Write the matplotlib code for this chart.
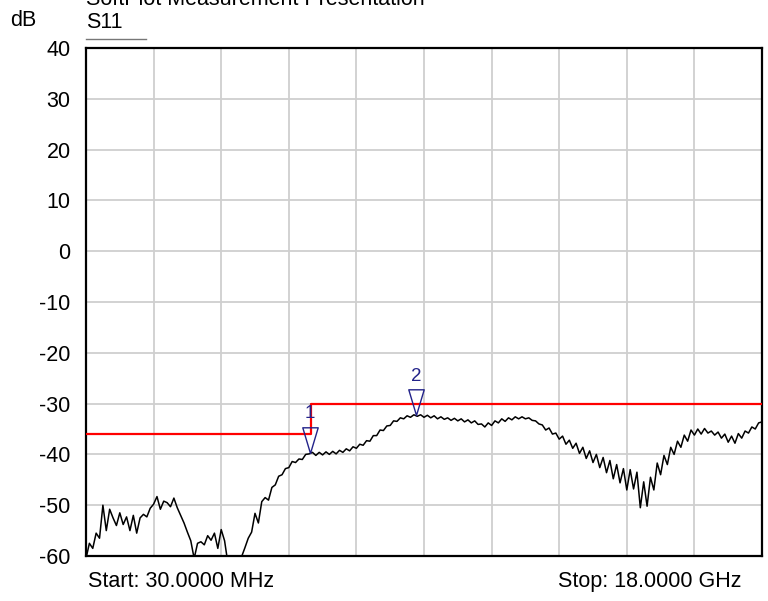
import numpy as np
import matplotlib
matplotlib.use("Agg")
import matplotlib.pyplot as plt
from matplotlib.path import Path

plt.rcParams['font.family'] = ['Liberation Sans', 'DejaVu Sans']
plt.rcParams['axes.unicode_minus'] = False

# sweep: 30 MHz .. 18 GHz, 201 points (GHz)
f_start = 0.03
f_stop = 18.0
s11 = [
    -60.5, -57.5, -58.5, -55.5, -56.5, -50.0, -55.0, -50.8, -52.5, -54.0,
    -51.5, -53.8, -52.3, -55.0, -52.0, -55.5, -52.5, -51.8, -52.3, -50.6,
    -49.8, -48.3, -50.8, -49.2, -49.5, -50.3, -48.6, -50.5, -52.0, -53.5,
    -55.3, -57.0, -60.5, -57.5, -57.2, -57.8, -56.0, -56.9, -55.5, -58.5,
    -54.8, -57.0, -61.5, -64.0, -64.0, -62.5, -60.2, -58.4, -56.5, -55.3,
    -51.6, -53.5, -49.3, -48.5, -49.0, -46.5, -46.0, -44.3, -44.0, -42.8,
    -42.6, -41.4, -41.6, -40.9, -41.0, -40.0, -39.9, -39.6, -40.2, -39.6,
    -40.1, -39.5, -40.0, -39.4, -39.9, -39.2, -39.6, -38.9, -39.3, -38.5,
    -38.8, -38.0, -38.2, -37.3, -37.4, -36.3, -36.3, -35.2, -35.3, -34.4,
    -34.3, -33.4, -33.5, -32.8, -33.0, -32.4, -32.7, -32.2, -32.5, -32.2,
    -32.7, -32.3, -32.8, -32.4, -33.0, -32.6, -33.1, -32.8, -33.3, -32.9,
    -33.4, -33.0, -33.6, -33.2, -33.8, -33.4, -34.1, -34.0, -34.6, -33.8,
    -34.3, -33.4, -33.8, -33.0, -33.5, -32.8, -33.2, -32.6, -33.0, -32.6,
    -33.0, -32.8, -33.3, -33.4, -34.0, -34.2, -35.2, -34.8, -36.0, -35.8,
    -37.0, -36.4, -38.0, -37.2, -38.8, -37.8, -39.8, -38.6, -40.8, -39.3,
    -41.6, -40.0, -42.6, -40.6, -43.6, -41.2, -44.8, -42.0, -45.6, -42.8,
    -47.0, -43.0, -46.8, -43.5, -50.5, -45.4, -50.2, -44.5, -47.0, -41.7,
    -44.0, -40.2, -42.0, -38.6, -40.0, -37.4, -38.6, -36.2, -37.4, -35.2,
    -36.2, -35.0, -36.0, -34.9, -35.8, -35.4, -36.2, -35.6, -36.8, -36.0,
    -37.6, -36.4, -37.8, -35.9, -36.8, -35.4, -35.8, -34.6, -35.0, -33.8,
    -33.6,
]
freq = np.linspace(f_start, f_stop, len(s11))

# limit line
limit_f = [0.03, 6.0, 18.0]
limit_db = [-36, -30, -30]

# markers
marker_f = [5.98, 8.80]
marker_db = [-39.7, -32.3]
marker_lbl = ["1", "2"]

yticks = [40, 30, 20, 10, 0, -10, -20, -30, -40, -50, -60]

fs = 15.5
navy = '#23238a'

fig = plt.figure(figsize=(7.68, 6.01), dpi=100)
ax = fig.add_axes([86/768, 1-556/601, 676/768, 508/601])

ax.set_xlim(f_start, f_stop)
ax.set_ylim(-60, 40)
ax.set_xticks(np.linspace(f_start, f_stop, 11))
ax.set_yticks(yticks)
ax.grid(True, color='#cfcfcf', lw=1.3)
ax.set_axisbelow(True)
ax.tick_params(length=0, labelsize=fs)
ax.tick_params(axis='y', pad=11)
ax.set_xticklabels([])
for s in ax.spines.values():
    s.set_linewidth(1.6)
    s.set_color('black')

ax.plot(freq, s11, color='black', lw=1.1, zorder=3)
ax.step(limit_f, limit_db, where='post', color='red', lw=1.6, zorder=4)

# down-pointing open triangle whose tip sits on the data point
tri = Path([(-0.3, 1.0), (0.3, 1.0), (0.0, 0.0), (-0.3, 1.0)],
           [Path.MOVETO, Path.LINETO, Path.LINETO, Path.CLOSEPOLY])
for f, v, l in zip(marker_f, marker_db, marker_lbl):
    ax.plot([f], [v], marker=tri, ms=37, mfc='none', mec=navy,
            mew=1.0, zorder=5, ls='none')
    ax.annotate(l, (f, v), xytext=(0, 22), textcoords='offset points',
                ha='center', va='bottom', color=navy, fontsize=13.5,
                zorder=6)

fig.text(10/768, 1-26/601, "dB", fontsize=fs, ha='left', va='baseline')
fig.text(86/768, 1-28/601, "S11", fontsize=fs, ha='left', va='baseline')
fig.add_artist(plt.Line2D([86/768, 146/768], [1-39/601, 1-39/601],
                          color='#777777', lw=1.0))
fig.text(86/768, 1-5/601, "SoftPlot Measurement Presentation", fontsize=fs,
         ha='left', va='baseline')
fig.text(88/768, 1-587/601, "Start: 30.0000 MHz", fontsize=fs,
         ha='left', va='baseline')
fig.text(742/768, 1-587/601, "Stop: 18.0000 GHz", fontsize=fs,
         ha='right', va='baseline')

fig.savefig("out.png", dpi=100)
